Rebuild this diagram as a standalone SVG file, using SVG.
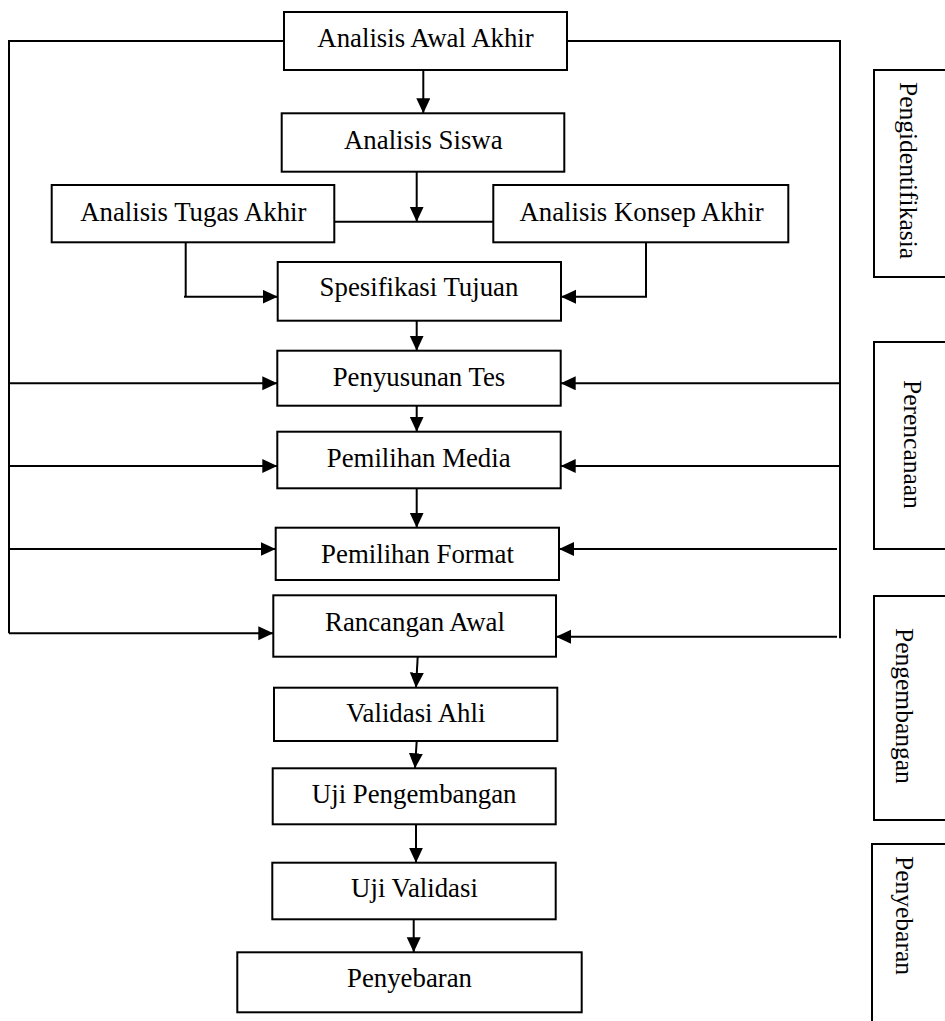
<svg xmlns="http://www.w3.org/2000/svg" width="945" height="1021" viewBox="0 0 945 1021">
<defs>
<style>
.box{fill:#fff;stroke:#000;stroke-width:2}
.lbl{font-family:"Liberation Serif","Times New Roman",serif;font-size:26.8px;fill:#000;text-anchor:middle}
.side{font-family:"Liberation Serif","Times New Roman",serif;font-size:25.5px;fill:#000}
.ln{fill:none;stroke:#000;stroke-width:2}
.arr{fill:none;stroke:#000;stroke-width:2;marker-end:url(#ah)}
</style>
<marker id="ah" markerUnits="userSpaceOnUse" markerWidth="16" markerHeight="15" refX="15" refY="7" orient="auto">
<path d="M0,0 L15,7 L0,14 z" fill="#000"/>
</marker>
</defs>
<rect width="945" height="1021" fill="#fff"/>
<g id="connectors">
<path class="ln" d="M284,41 H9 V633.3"/>
<path class="arr" d="M9,633.3 H273.3"/>
<path class="arr" d="M10,383.3 H277.3"/>
<path class="arr" d="M10,466 H277.3"/>
<path class="arr" d="M9,549 H275.7"/>
<path class="ln" d="M567,41 H840 V638.3"/>
<path class="arr" d="M839,383.3 H560.7"/>
<path class="arr" d="M839,466 H560.7"/>
<path class="arr" d="M837,549 H559"/>
<path class="arr" d="M837,636.7 H556"/>
<path class="arr" d="M423.3,70 V113.3"/>
<path class="arr" d="M416.7,171.7 V221.7"/>
<path class="ln" d="M334.3,221.7 H493.3"/>
<path class="ln" d="M185.7,242.3 V296.7"/>
<path class="arr" d="M184,296.7 H277.7"/>
<path class="ln" d="M646,242.3 V296.7"/>
<path class="arr" d="M647,296.7 H561"/>
<path class="arr" d="M416.7,320.7 V350.7"/>
<path class="arr" d="M416.7,405.7 V431.7"/>
<path class="arr" d="M416.7,488.3 V527.7"/>
<path class="arr" d="M417.7,656.7 L416,687.7"/>
<path class="arr" d="M416.7,741 L415,768.3"/>
<path class="arr" d="M416,824.3 V862.7"/>
<path class="arr" d="M413.7,919.3 V952.3"/>
</g>
<g id="n-awal-akhir"><rect class="box" x="284" y="12" width="283" height="58"/><text class="lbl" x="425.5" y="47">Analisis Awal Akhir</text></g>
<g id="n-siswa"><rect class="box" x="281.7" y="113.3" width="282.6" height="58.4"/><text class="lbl" x="423.3" y="149">Analisis Siswa</text></g>
<g id="n-tugas"><rect class="box" x="51.7" y="185" width="282.6" height="57.3"/><text class="lbl" x="193.3" y="220.7">Analisis Tugas Akhir</text></g>
<g id="n-konsep"><rect class="box" x="493.3" y="185" width="295" height="57.3"/><text class="lbl" x="641.5" y="220.7">Analisis Konsep Akhir</text></g>
<g id="n-spesifikasi"><rect class="box" x="277.7" y="262" width="283.3" height="58.7"/><text class="lbl" x="419" y="296">Spesifikasi Tujuan</text></g>
<g id="n-penyusunan"><rect class="box" x="277.3" y="350.7" width="283.4" height="55"/><text class="lbl" x="419" y="386">Penyusunan Tes</text></g>
<g id="n-media"><rect class="box" x="277.3" y="431.7" width="283.4" height="56.6"/><text class="lbl" x="418.7" y="466.7">Pemilihan Media</text></g>
<g id="n-format"><rect class="box" x="275.7" y="527.7" width="283.3" height="52.3"/><text class="lbl" x="417.5" y="562.7">Pemilihan Format</text></g>
<g id="n-rancangan"><rect class="box" x="273.3" y="595.3" width="282.7" height="61.4"/><text class="lbl" x="415" y="631">Rancangan Awal</text></g>
<g id="n-validasi-ahli"><rect class="box" x="274" y="687.7" width="283.3" height="53.3"/><text class="lbl" x="415.8" y="721.7">Validasi Ahli</text></g>
<g id="n-uji-pengembangan"><rect class="box" x="272.7" y="768.3" width="283" height="56"/><text class="lbl" x="414.2" y="803.3">Uji Pengembangan</text></g>
<g id="n-uji-validasi"><rect class="box" x="272.3" y="862.7" width="283.4" height="56.6"/><text class="lbl" x="414.5" y="897.3">Uji Validasi</text></g>
<g id="n-penyebaran"><rect class="box" x="237.3" y="952.3" width="344.4" height="60"/><text class="lbl" x="409.5" y="987.3">Penyebaran</text></g>
<g id="s-pengidentifikasia"><rect class="box" x="874" y="70" width="90" height="207"/><text class="side" transform="translate(900,82) rotate(90)">Pengidentifikasia</text></g>
<g id="s-perencanaan"><rect class="box" x="874" y="342" width="90" height="207"/><text class="side" transform="translate(904,380) rotate(90)">Perencanaan</text></g>
<g id="s-pengembangan"><rect class="box" x="874" y="596" width="90" height="224"/><text class="side" transform="translate(896,628) rotate(90)">Pengembangan</text></g>
<g id="s-penyebaran"><rect class="box" x="872" y="844" width="90" height="200"/><text class="side" transform="translate(896,856) rotate(90)">Penyebaran</text></g>
</svg>
